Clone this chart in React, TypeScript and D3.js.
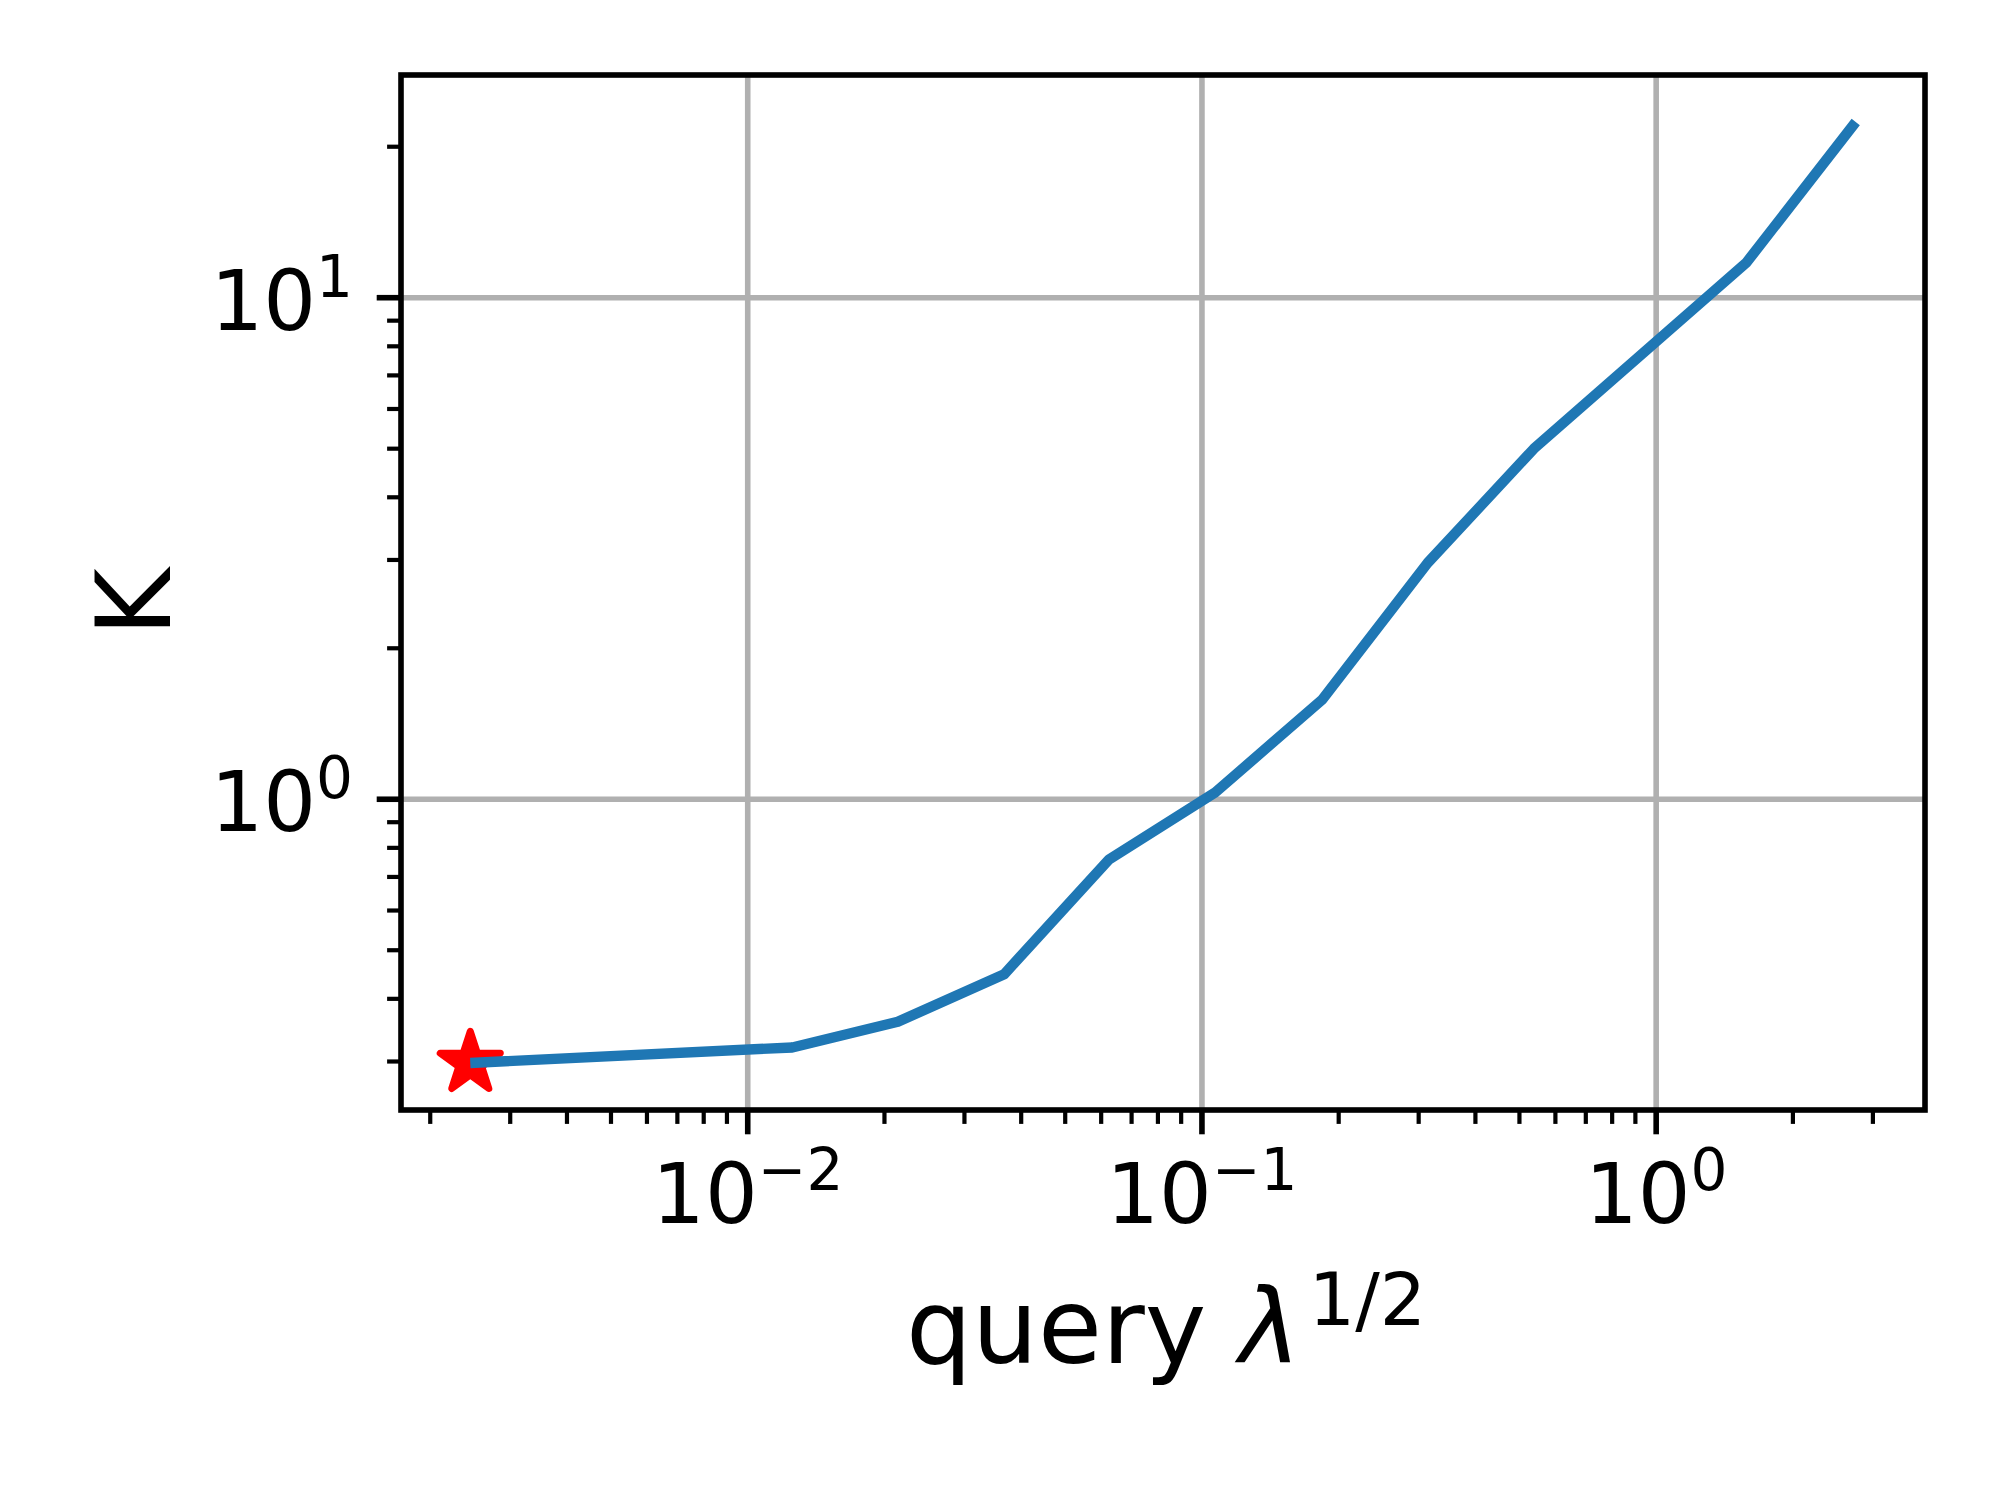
import * as d3 from "d3";

// query lambda^(1/2) values and the K read at each of them
const lambdaSqrt = [0.00245, 0.01253, 0.0214, 0.0367, 0.0625, 0.107, 0.184, 0.314, 0.538, 1.58, 2.75];
const kValues = [0.298, 0.32, 0.36, 0.448, 0.759, 1.032, 1.58, 2.96, 5.0, 11.75, 22.4];

// the starred point (first query)
const starX = [0.00245];
const starY = [0.298];

const xLabel = "query ";
const yLabel = "K";

const W = 2000;
const H = 1500;
const plot = { left: 401, right: 1925, top: 75, bottom: 1110 };

const font = "'DejaVu Sans', sans-serif";
const tickFont = 83;
const labelFont = 104;

// matplotlib-like 5% margins on a log axis
function logDomain(vals: number[]): [number, number] {
  const lo = Math.log10(d3.min(vals) as number);
  const hi = Math.log10(d3.max(vals) as number);
  const pad = (hi - lo) * 0.05;
  return [Math.pow(10, lo - pad), Math.pow(10, hi + pad)];
}

const isMajor = (v: number) => Math.abs(Math.log10(v) - Math.round(Math.log10(v))) < 1e-9;

function PowLabel(props: { x: number; y: number; v: number; anchor: string }) {
  const { x, y, v, anchor } = props;
  const p = Math.round(Math.log10(v));
  const exp = p < 0 ? "\u2212" + Math.abs(p) : String(p);
  return (
    <text x={x} y={y} fontSize={tickFont} fontFamily={font} textAnchor={anchor} fill="#000">
      10
      <tspan fontSize={tickFont * 0.7} dy={-33}>
        {exp}
      </tspan>
    </text>
  );
}

export default function App() {
  const x = d3.scaleLog().domain(logDomain(lambdaSqrt)).range([plot.left, plot.right]);
  const y = d3.scaleLog().domain(logDomain(kValues)).range([plot.bottom, plot.top]);

  const xTicks = x.ticks();
  const yTicks = y.ticks();

  const line = d3
    .line<number>()
    .x((d, i) => x(lambdaSqrt[i]))
    .y((d) => y(d));

  const star = d3.symbol().type(d3.symbolStar).size(1120)();

  return (
    <svg
      width={W}
      height={H}
      style={{ position: "absolute", left: 0, top: 0, background: "#fff" }}
    >
      <rect x={0} y={0} width={W} height={H} fill="#fff" />

      {/* grid */}
      {xTicks.filter(isMajor).map((t) => (
        <line key={"gx" + t} x1={x(t)} x2={x(t)} y1={plot.top} y2={plot.bottom} stroke="#b0b0b0" strokeWidth={5.6} />
      ))}
      {yTicks.filter(isMajor).map((t) => (
        <line key={"gy" + t} x1={plot.left} x2={plot.right} y1={y(t)} y2={y(t)} stroke="#b0b0b0" strokeWidth={5.6} />
      ))}

      {/* star marker */}
      {starX.map((sx, i) => (
        <path
          key={"star" + i}
          d={star as string}
          transform={`translate(${x(sx)},${y(starY[i])})`}
          fill="#ff0000"
          stroke="#ff0000"
          strokeWidth={7}
          strokeLinejoin="round"
        />
      ))}

      {/* series */}
      <path d={line(kValues) as string} fill="none" stroke="#1f77b4" strokeWidth={10.4} strokeLinejoin="round" />

      {/* x ticks */}
      {xTicks.map((t) => {
        const major = isMajor(t);
        return (
          <line
            key={"tx" + t}
            x1={x(t)}
            x2={x(t)}
            y1={plot.bottom}
            y2={plot.bottom + (major ? 24.3 : 13.9)}
            stroke="#000"
            strokeWidth={major ? 5.6 : 4.2}
          />
        );
      })}
      {xTicks.filter(isMajor).map((t) => (
        <PowLabel key={"lx" + t} x={x(t)} y={1223} v={t} anchor="middle" />
      ))}

      {/* y ticks */}
      {yTicks.map((t) => {
        const major = isMajor(t);
        return (
          <line
            key={"ty" + t}
            x1={plot.left}
            x2={plot.left - (major ? 24.3 : 13.9)}
            y1={y(t)}
            y2={y(t)}
            stroke="#000"
            strokeWidth={major ? 5.6 : 4.2}
          />
        );
      })}
      {yTicks.filter(isMajor).map((t) => (
        <PowLabel key={"ly" + t} x={353} y={y(t) + 32} v={t} anchor="end" />
      ))}

      {/* frame */}
      <rect
        x={plot.left}
        y={plot.top}
        width={plot.right - plot.left}
        height={plot.bottom - plot.top}
        fill="none"
        stroke="#000"
        strokeWidth={5.6}
      />

      {/* axis labels */}
      <text x={(plot.left + plot.right) / 2 + 3} y={1363} fontSize={labelFont} fontFamily={font} textAnchor="middle" fill="#000">
        {xLabel}
        <tspan fontStyle="italic">λ</tspan>
        <tspan fontSize={labelFont * 0.7} dy={-38} dx={8}>
          1/2
        </tspan>
      </text>
      <text
        transform={`translate(170,${(plot.top + plot.bottom) / 2 + 10}) rotate(-90)`}
        fontSize={labelFont}
        fontFamily={font}
        textAnchor="middle"
        fill="#000"
      >
        {yLabel}
      </text>
    </svg>
  );
}
